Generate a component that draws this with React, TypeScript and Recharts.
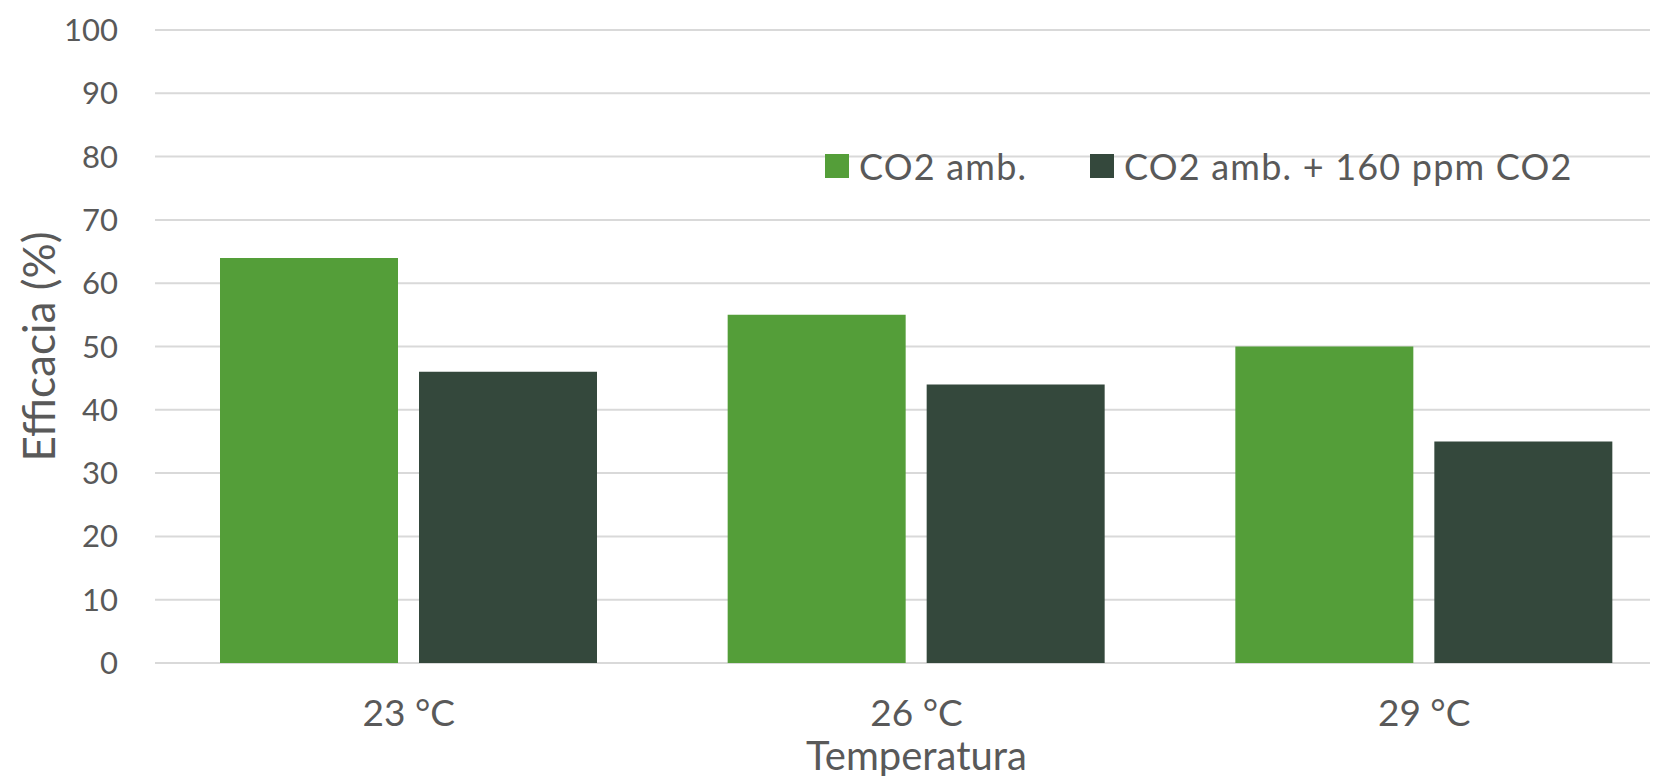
import React from 'react';
import { BarChart, Bar, XAxis, YAxis, CartesianGrid, Legend } from 'recharts';

// Temperature groups on the category axis
const temperatures = ['23 °C', '26 °C', '29 °C'];
// Efficacy (%) for each CO2 condition
const co2Ambient = [64, 55, 50];
const co2Enriched = [46, 44, 35];
const yTicks = [0, 10, 20, 30, 40, 50, 60, 70, 80, 90, 100];

const seriesNames = ['CO2 amb.', 'CO2 amb. + 160 ppm CO2'];

const GREEN = '#549E39';
const DARK = '#34483C';
const TEXT = '#595959';
const FONT = 'Lato, "Open Sans", sans-serif';

const data = temperatures.map((t, i) => ({
  temp: t,
  ambient: co2Ambient[i],
  enriched: co2Enriched[i],
}));

const renderLegend = ({ payload }: any) => (
  <div style={{ display: 'flex', alignItems: 'center', fontFamily: FONT }}>
    {(payload || []).map((entry: any, i: number) => (
      <div
        key={entry.value}
        style={{ display: 'flex', alignItems: 'center', width: i === 0 ? 265 : 'auto' }}
      >
        <span style={{ width: 24, height: 24, background: entry.color, marginRight: 10, display: 'inline-block' }} />
        <span style={{ fontSize: 36, color: TEXT, letterSpacing: 1.2, whiteSpace: 'nowrap' }}>{entry.value}</span>
      </div>
    ))}
  </div>
);

const YTitle = ({ viewBox }: any) => {
  const cx = viewBox.x + 38;
  const cy = viewBox.y + viewBox.height / 2;
  return (
    <text
      x={cx}
      y={cy}
      transform={`rotate(-90, ${cx}, ${cy})`}
      textAnchor="middle"
      dominantBaseline="central"
      fill={TEXT}
      fontSize={44}
      fontFamily={FONT}
    >
      Efficacia (%)
    </text>
  );
};

export default function App() {
  const tick = { fill: TEXT, fontSize: 31, fontFamily: FONT };
  return (
    <div style={{ margin: -8, width: 1658, height: 784, overflow: 'hidden', background: '#fff', fontFamily: FONT }}>
      <BarChart
        width={1678}
        height={784}
        data={data}
        margin={{ top: 30, right: 0, bottom: 0, left: 0 }}
        barCategoryGap={65}
        barGap={21}
      >
        <CartesianGrid vertical={false} stroke="#D9D9D9" strokeWidth={2} />
        <YAxis
          domain={[0, 100]}
          ticks={yTicks}
          width={155}
          axisLine={false}
          tickLine={false}
          tickSize={0}
          tickMargin={37}
          tick={tick}
          label={<YTitle />}
        />
        <XAxis
          dataKey="temp"
          height={121}
          axisLine={false}
          tickLine={false}
          tickSize={0}
          tickMargin={37}
          tick={{ ...tick, fontSize: 37 }}
          label={{
            value: 'Temperatura',
            position: 'insideBottom',
            offset: 14,
            fill: TEXT,
            fontSize: 40,
            fontFamily: FONT,
          }}
        />
        <Legend
          layout="horizontal"
          align="center"
          verticalAlign="middle"
          content={renderLegend}
          wrapperStyle={{ position: 'absolute', left: 825, top: 144, width: 'auto' }}
        />
        <Bar dataKey="ambient" name={seriesNames[0]} fill={GREEN} isAnimationActive={false} />
        <Bar dataKey="enriched" name={seriesNames[1]} fill={DARK} isAnimationActive={false} />
      </BarChart>
    </div>
  );
}
